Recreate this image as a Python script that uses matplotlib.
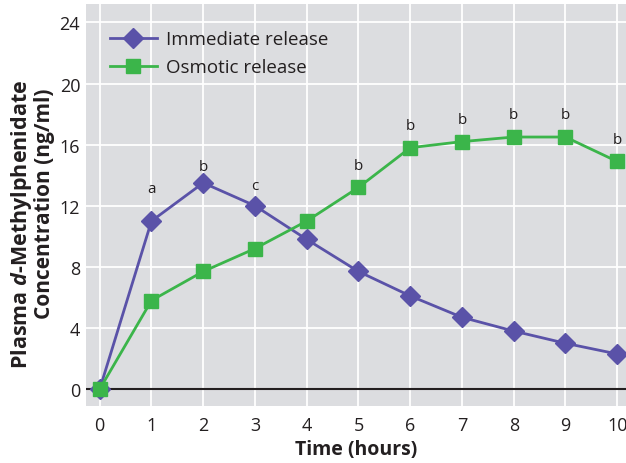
import matplotlib.pyplot as plt
import numpy as np

hours = [0, 1, 2, 3, 4, 5, 6, 7, 8, 9, 10]
immediate = [0, 11.0, 13.5, 12.0, 9.8, 7.7, 6.1, 4.7, 3.8, 3.0, 2.3]
osmotic = [0, 5.8, 7.7, 9.2, 11.0, 13.2, 15.8, 16.2, 16.5, 16.5, 14.9]
imm_marks = {1: 'a', 2: 'b', 3: 'c'}
osm_marks = {5: 'b', 6: 'b', 7: 'b', 8: 'b', 9: 'b', 10: 'b'}

# gap above the marker for each letter (in data units)
imm_gap = {1: 2.1, 2: 1.1, 3: 1.3}
osm_gap = 1.45

plt.rcParams['font.family'] = ['Open Sans', 'DejaVu Sans']
plt.rcParams['mathtext.fontset'] = 'custom'
plt.rcParams['mathtext.it'] = 'Open Sans:bold:italic'

purple = '#5a52a8'
green = '#3bb54a'
txt = '#231f20'

fig = plt.figure(figsize=(6.26, 4.64), dpi=100)
ax = fig.add_axes([0.137, 0.123, 0.863, 0.866])
ax.set_facecolor('#dcdde0')
for s in ax.spines.values():
    s.set_visible(False)
ax.grid(True, color='white', linewidth=1.3)
ax.set_axisbelow(True)
ax.axhline(0, color=txt, linewidth=1.5, zorder=1)

ax.plot(hours, immediate, '-D', color=purple, lw=2, ms=10, label='Immediate release', zorder=3)
ax.plot(hours, osmotic, '-s', color=green, lw=2, ms=9.5, label='Osmotic release', zorder=3)

for h, t in imm_marks.items():
    ax.text(h, immediate[h] + imm_gap[h], t, ha='center', va='center', fontsize=11, color=txt)
for h, t in osm_marks.items():
    ax.text(h, osmotic[h] + osm_gap, t, ha='center', va='center', fontsize=11, color=txt)

ax.set_xlim(-0.27, 10.17)
ax.set_ylim(-1.1, 25.2)
ax.set_xticks(range(0, 11))
ax.set_yticks(range(0, 25, 4))
ax.tick_params(length=0, labelsize=13, colors=txt)
ax.tick_params(axis='x', pad=7)
ax.tick_params(axis='y', pad=4)
ax.set_xlabel('Time (hours)', fontsize=14, fontweight='bold', color=txt, labelpad=4)

fig.text(22 / 626, 1 - 224 / 464, 'Plasma $d$-Methylphenidate', rotation=90,
         ha='center', va='center', fontsize=15.5, fontweight='bold', color=txt)
fig.text(45 / 626, 1 - 204 / 464, 'Concentration (ng/ml)', rotation=90,
         ha='center', va='center', fontsize=15, fontweight='bold', color=txt)

ax.legend(loc='upper left', frameon=False, fontsize=13.5, handlelength=2.5,
          handletextpad=0.5, borderaxespad=0.3, labelspacing=0.55,
          bbox_to_anchor=(0.02, 0.968))
for t in ax.get_legend().get_texts():
    t.set_color(txt)

fig.savefig('out.png', dpi=100)
